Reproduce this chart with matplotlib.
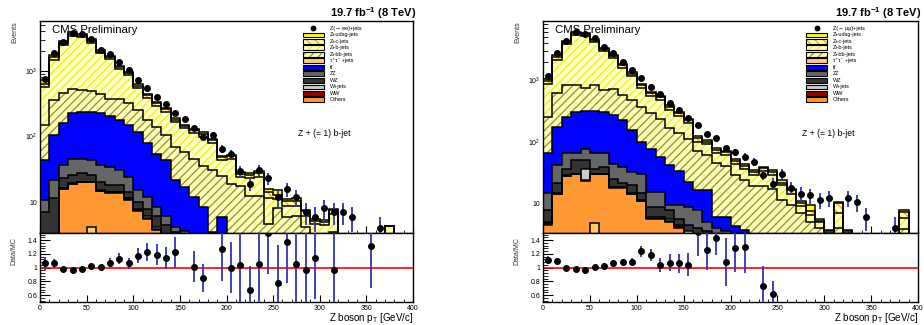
import numpy as np
import matplotlib
matplotlib.use("Agg")
import matplotlib.pyplot as plt
from matplotlib.patches import Rectangle
from matplotlib.lines import Line2D
from matplotlib.ticker import FixedLocator, FixedFormatter, MultipleLocator, LogLocator, NullFormatter

plt.rcParams["font.family"] = ["Liberation Sans", "DejaVu Sans"]
plt.rcParams["mathtext.fontset"] = "custom"
plt.rcParams["mathtext.rm"] = "Liberation Sans"
plt.rcParams["mathtext.it"] = "Liberation Sans:italic"
plt.rcParams["mathtext.bf"] = "Liberation Sans:bold"
plt.rcParams["hatch.linewidth"] = 0.9

# ---------------- binning: Z boson pT, 10 GeV bins from 0 to 400 ----------------
edges = np.arange(0, 410, 10)
centers = 0.5 * (edges[:-1] + edges[1:])
NB = len(centers)


def pad(vals):
    a = np.zeros(NB)
    a[: len(vals)] = vals
    return a


# ---------------- Z -> ee channel ----------------
ee_data = pad([755, 1860, 2800, 3760, 3630, 3080, 2090, 1820, 1360, 1035,
               730, 545, 400, 315, 231, 185, 133, 99, 105, 65,
               55, 30, 19, 31, 23, 11.8, 15.8, 11.8, 7.1, 6,
               8, 7.1, 7.1, 6, 0, 0, 4, 0, 0, 0])
ee_tautau = pad([0, 0, 2.5, 2.5, 2.5, 4.2, 2.5, 2.5, 2, 1.5, 1, 0.8, 0.5])
ee_others = pad([2.0, 2.5, 13.3, 16.3, 17.4, 15.7, 12.0, 11.4, 11.9, 9.4,
                 6.4, 4.7, 3.2, 2.5, 2.0, 1.5, 1.0, 0.7, 0.5, 0.3, 0.1])
ee_ww = pad([0.2] * 21)
ee_wjets = pad([0.3] * 21)
ee_wz = pad([4.5, 8.5, 6.7, 6.7, 7.2, 5.6, 5.5, 3.6, 3.6, 3.0,
             2.1, 1.9, 1.8, 1.5, 1.0, 0.8, 0.7, 0.6, 0.5, 0.4,
             0.3, 0.2, 0.2, 0.2, 0.2, 0.2, 0.1, 0.1, 0.1, 0.1, 0.1, 0.1])
ee_zz = pad([3.6, 10.2, 13.7, 19, 18.4, 18, 16.5, 16.6, 13, 9.6,
             5, 4.1, 2.5, 1.5, 0.7, 0.8, 0.8, 0.7, 0.5, 0.4,
             0.3, 0.3, 0.3, 0.3, 0.3, 0.2, 0.2, 0.1, 0.2, 0.1, 0.1, 0.1])
ee_ttbar = pad([33.4, 83.3, 121.3, 181, 194, 196, 194, 171.4, 147, 126,
                103, 67, 46.5, 38, 17.8, 13.4, 9, 6, 1.5, 4.2,
                1.8, 1.8, 1.7, 1.7, 1.6, 1.6, 1.5, 1.5, 1.4, 1.4,
                1.3, 1.3, 1.2, 1.1, 1.0, 0.9, 0.8, 0.8, 0.7, 0.6])
ee_zbb = pad([106, 255, 298, 299, 270, 260, 214, 172, 192, 171,
              132, 101, 85, 61, 48, 41, 33, 26.5, 27, 19.2,
              16, 15, 10, 10, 2.5, 6, 4, 4.5, 2.5, 1.5,
              1, 2])
ee_zb = pad([410, 1090, 2044, 2925, 2790, 2200, 1405, 1122, 710, 539,
             300, 210, 150, 135, 95, 77, 70, 65, 50, 19,
             27, 7, 11, 12, 6.8, 3, 3, 2.5, 2, 1.5,
             2, 3, 1, 1, 0.8, 1, 0.5, 3.5, 0.5, 0.3])
ee_zc = pad([80, 170, 180, 250, 220, 180, 120, 120, 70, 70,
             45, 35, 30, 25, 15, 10, 10, 10, 8, 4,
             4, 2.5, 3, 4, 3, 2, 1.5, 1.5, 1, 0.5, 0.5, 1])
ee_zudsg = pad([75, 130, 160, 200, 170, 140, 100, 80, 50, 46,
                29, 18, 16, 11, 9, 7, 6, 6, 4, 3,
                3, 1.5, 2, 2, 1.3, 2, 1, 1.2, 0.4, 0.3, 0.3, 0.4])
nan = np.nan
ee_ratio = np.array([1.06, 1.06, 0.985, 0.96, 0.985, 1.02, 1.01, 1.07, 1.13, 1.06,
                     1.17, 1.23, 1.19, 1.14, 1.22, nan, 1.015, 0.85, nan, 1.275,
                     1.0, 1.04, 0.67, 1.05, 1.5, 0.78, 1.37, 1.05, 0.965, 1.14,
                     nan, 0.96, nan, nan, nan, 1.31, nan, nan, nan, nan])
ee_ratio_err = np.array([0.1, 0.06, 0.03, 0.03, 0.03, 0.03, 0.03, 0.065, 0.085, 0.08,
                         0.11, 0.13, 0.15, 0.16, 0.22, nan, 0.23, 0.2, nan, 0.47,
                         0.37, 0.6, 0.35, 0.6, 0.6, 0.55, 0.6, 0.6, 0.6, 0.6,
                         nan, 0.6, nan, nan, nan, 0.6, nan, nan, nan, nan])

# ---------------- Z -> mumu channel ----------------
mm_data = pad([1160, 2780, 4360, 5960, 5600, 4770, 3480, 2720, 1980, 1450,
               1090, 760, 585, 418, 325, 247, 186, 132, 113, 78,
               68, 57, 47, 29, 21, 30.5, 18, 14.4, 13.5, 11.5,
               12.4, 0, 12.4, 10.5, 6, 0, 0, 4, 0, 0])
mm_tautau = pad([0, 0, 2.5, 2.5, 2.5, 4.7, 2.5, 2.5, 2, 1.5, 1, 0.8, 0.5])
mm_others = pad([4.5, 14, 25.5, 27, 20.9, 24.8, 27, 15.4, 15.9, 12.5,
                 9.7, 4.7, 5, 5, 4, 3, 2.5, 2, 1.5, 1,
                 0.7, 1, 0.8, 0.7, 0.6, 0.5, 0.4, 0.3, 0.3, 0.3])
mm_ww = pad([0.2] * 21)
mm_wjets = pad([0.3, 0.3, 0.3, 0.3, 13, 0.3, 0.3, 0.3, 0.3, 0.3,
                0.3, 0.3, 0.3, 0.3, 0.3, 0.3, 0.3, 0.3, 0.3, 0.3, 0.3])
mm_wz = pad([2.7, 6.5, 8.1, 20, 13.4, 6.6, 9, 6.6, 2.6, 5.1,
             3.3, 2.7, 2.7, 2.2, 1, 1, 1, 1, 1, 1,
             0.8, 0.5, 0.4, 0.3, 0.3, 0.3, 0.3, 0.2, 0.2, 0.2])
mm_zz = pad([6.8, 20.5, 28.4, 15, 27.6, 28.4, 26, 19, 18, 12.4,
             15.5, 6.3, 6.3, 1.6, 3.8, 4.2, 3.7, 1.5, 1, 1,
             1, 1, 0.8, 0.7, 0.6, 0.5, 0.4, 0.3, 0.3, 0.3])
mm_ttbar = pad([50, 132.5, 188, 240, 242, 255, 240, 226, 185, 122,
                69, 62.6, 41.6, 32.2, 24.7, 13.3, 8.6, 11.3, 2, 2.5,
                1.2, 1.2, 1.2, 1.2, 1.2, 1.2, 1.2, 1.2, 1.1, 1.1,
                1.0, 1.0, 1.0, 1.0, 0.9, 0.9, 0.8, 0.8, 0.8, 0.7])
mm_zbb = pad([185, 446, 577, 525, 413, 510, 383, 436, 346, 319,
              269, 210, 173, 128, 106, 88, 54, 44, 39, 34,
              25, 20.5, 16, 16, 14.5, 9, 7, 5, 3, 2,
              1.5, 3, 1.5, 1, 1, 0.8, 0.5, 0.5, 3, 0.5])
mm_zb = pad([610, 1530, 2970, 4570, 4467, 3370, 2312, 1544, 1030, 677,
             382, 262, 250, 160, 120, 90, 30, 30, 20, 20,
             15, 12, 10, 14, 12, 8, 5, 2, 1.5, 1,
             0.8, 3, 0.8, 0.5, 0.5, 0.3, 0.3, 0.3, 2, 0.3])
mm_zc = pad([100, 230, 300, 400, 400, 300, 220, 170, 130, 110,
             80, 60, 50, 40, 30, 25, 15, 10, 9, 8,
             5, 4, 3, 4, 3, 2, 2, 1, 1, 0.3,
             0.2, 3, 0.2, 0.1, 0.1, 0.1, 0.1, 0.1, 1.5, 0.1])
mm_zudsg = pad([85, 156, 260, 313, 233, 204, 159, 129, 103, 74,
                49, 34, 31, 20, 16, 12, 7, 6, 5, 4,
                3, 3, 2, 2, 2, 2, 1, 1, 2, 0.3,
                0.2, 0.5, 0.2, 0.2, 0.2, 0.1, 0.1, 0.1, 0.5, 0.1])
mm_ratio = np.array([1.11, 1.096, 1.0, 0.975, 0.96, 1.014, 1.03, 1.067, 1.08, 1.087,
                     1.24, 1.18, 1.043, 1.072, 1.062, 1.043, 1.52, 1.25, 1.435, 1.08,
                     1.29, 1.30, nan, 0.73, 0.61, nan, nan, nan, nan, nan,
                     nan, nan, nan, nan, nan, nan, nan, nan, nan, nan])
mm_ratio_err = np.array([0.06, 0.05, 0.02, 0.02, 0.02, 0.02, 0.03, 0.04, 0.05, 0.05,
                         0.08, 0.09, 0.1, 0.12, 0.14, 0.17, 0.35, 0.29, 0.25, 0.35,
                         0.35, 0.38, nan, 0.29, 0.2, nan, nan, nan, nan, nan,
                         nan, nan, nan, nan, nan, nan, nan, nan, nan, nan])

# ---------------- styles (stack order bottom -> top) ----------------
STACK_ORDER = ["tautau", "others", "ww", "wjets", "wz", "zz", "ttbar",
               "zbb", "zb", "zc", "zudsg"]
STYLE = {
    "zudsg": dict(fc="#ffff00", hc=None, hatch=None),
    "zc": dict(fc="#ffffb0", hc="#ff9a1a", hatch="\\\\\\\\"),
    "zb": dict(fc="#ffffc8", hc="#f2f200", hatch="////"),
    "zbb": dict(fc="#ffffb4", hc="#8f8f3a", hatch="////"),
    "tautau": dict(fc="#ffcc66", hc=None, hatch=None),
    "ttbar": dict(fc="#0000ff", hc=None, hatch=None),
    "zz": dict(fc="#666666", hc=None, hatch=None),
    "wz": dict(fc="#333333", hc=None, hatch=None),
    "wjets": dict(fc="#cccccc", hc=None, hatch=None),
    "ww": dict(fc="#990000", hc=None, hatch=None),
    "others": dict(fc="#ff9933", hc=None, hatch=None),
}
LEGEND_ORDER = ["zudsg", "zc", "zb", "zbb", "tautau", "ttbar", "zz", "wz",
                "wjets", "ww", "others"]
LEGEND_TEXT = {
    "zudsg": "Z+udsg-jets", "zc": "Z+c-jets", "zb": "Z+b-jets",
    "zbb": "Z+bb-jets", "tautau": "τ⁺τ⁻ +jets",
    "ttbar": "tt̄", "zz": "ZZ", "wz": "WZ", "wjets": "W+jets",
    "ww": "WW", "others": "Others",
}

W, H = 924, 325
fig = plt.figure(figsize=(W / 100, H / 100), dpi=100)


def fx(x):
    return x / W


def fy(y):
    return 1 - y / H


def draw_channel(x0, x1, ymin, ymax, comps, data, ratio, rerr, data_label, leg_x):
    ax = fig.add_axes([fx(x0), fy(232.5), fx(x1 - x0), (232.5 - 21) / H])
    axr = fig.add_axes([fx(x0), fy(302), fx(x1 - x0), (302 - 232.5) / H])

    base = ymin * 0.01
    prev = np.full(NB, base)
    tops = []
    for name in STACK_ORDER:
        top = prev + comps[name]
        st = STYLE[name]
        ax.stairs(np.maximum(top, base), edges, baseline=prev, fill=True,
                  facecolor=st["fc"], edgecolor=st["hc"] if st["hc"] else "none",
                  hatch=st["hatch"], lw=0, zorder=2)
        tops.append(top)
        prev = top
    for top in tops:
        ax.stairs(np.maximum(top, base), edges, baseline=base, fill=False,
                  color="black", lw=1.1, zorder=3)

    d = np.where(data > 0, data, np.nan)
    ax.errorbar(centers, d, yerr=np.sqrt(np.nan_to_num(d)), fmt="none",
                ecolor="#3434b0", elinewidth=1.3, capsize=0, zorder=4)
    ax.plot(centers, d, "o", color="black", ms=4, zorder=5)

    ax.set_yscale("log")
    ax.set_xlim(0, 400)
    ax.set_ylim(ymin, ymax)
    ax.yaxis.set_major_locator(FixedLocator([10, 100, 1000]))
    ax.yaxis.set_major_formatter(FixedFormatter(["10", r"$10^{2}$", r"$10^{3}$"]))
    ax.yaxis.set_minor_locator(LogLocator(base=10, subs=np.arange(2, 10)))
    ax.yaxis.set_minor_formatter(NullFormatter())
    ax.xaxis.set_major_locator(MultipleLocator(50))
    ax.xaxis.set_minor_locator(MultipleLocator(10))
    ax.set_xticklabels([])
    ax.tick_params(which="both", direction="in", top=False, right=False,
                   labelsize=5, pad=2)
    ax.tick_params(axis="y", which="major", length=7)
    ax.tick_params(axis="y", which="minor", length=3.5)
    ax.tick_params(axis="x", which="major", length=5)
    ax.tick_params(axis="x", which="minor", length=2.5)

    # ratio panel
    axr.axhline(1.0, color="#ff0000", lw=1.2, zorder=2)
    axr.errorbar(centers, ratio, yerr=rerr, fmt="none", ecolor="#3434b0",
                 elinewidth=1.3, capsize=0, zorder=3)
    axr.plot(centers, ratio, "o", color="black", ms=4, zorder=4, clip_on=True)
    axr.set_xlim(0, 400)
    axr.set_ylim(0.5, 1.51)
    axr.yaxis.set_major_locator(FixedLocator([0.6, 0.8, 1.0, 1.2, 1.4]))
    axr.yaxis.set_major_formatter(FixedFormatter(["0.6", "0.8", "1", "1.2", "1.4"]))
    axr.yaxis.set_minor_locator(MultipleLocator(0.04))
    axr.xaxis.set_major_locator(MultipleLocator(50))
    axr.xaxis.set_minor_locator(MultipleLocator(10))
    axr.tick_params(which="both", direction="in", top=False, right=False,
                    labelsize=5, pad=2)
    axr.tick_params(axis="y", which="major", length=7)
    axr.tick_params(axis="y", which="minor", length=3.5)
    axr.tick_params(axis="x", which="major", length=5)
    axr.tick_params(axis="x", which="minor", length=2.5)

    for a in (ax, axr):
        for s in a.spines.values():
            s.set_linewidth(1.0)

    # labels
    fig.text(fx(x0 - 25), fy(21), "Events", rotation=90, ha="center", va="top",
             fontsize=5, color="#333333")
    fig.text(fx(x0 - 26), fy(251), "Data/MC", rotation=90, ha="center", va="center",
             fontsize=5, color="#333333")
    fig.text(fx(x1), fy(318), r"Z boson p$_{\rm T}$ [GeV/c]", ha="right",
             va="center", fontsize=7)
    fig.text(fx(x0 + 12), fy(30), "CMS Preliminary", ha="left", va="center",
             fontsize=8.2)
    fig.text(fx(x1 + 3), fy(13), r"19.7 fb$^{\mathbf{-1}}$ (8 TeV)", ha="right",
             va="center", fontsize=8, fontweight="bold")

    # legend
    sw_w, sw_h = 21, 4.6
    row0, step = 28.3, 6.5
    fig.add_artist(Line2D([fx(leg_x + sw_w / 2)], [fy(row0)], marker="o",
                          color="black", ms=3.2, transform=fig.transFigure))
    fig.text(fx(leg_x + 27), fy(row0), data_label, ha="left", va="center",
             fontsize=4.0)
    for i, name in enumerate(LEGEND_ORDER):
        yc = row0 + step * (i + 1)
        st = STYLE[name]
        fig.add_artist(Rectangle((fx(leg_x), fy(yc + sw_h / 2)), fx(sw_w), sw_h / H,
                                 transform=fig.transFigure, facecolor=st["fc"],
                                 edgecolor=st["hc"] if st["hc"] else "none",
                                 hatch=st["hatch"], lw=0))
        fig.add_artist(Rectangle((fx(leg_x), fy(yc + sw_h / 2)), fx(sw_w), sw_h / H,
                                 transform=fig.transFigure, fill=False,
                                 edgecolor="black", lw=0.8))
        fig.text(fx(leg_x + 27), fy(yc), LEGEND_TEXT[name], ha="left",
                 va="center", fontsize=4.0)
    fig.text(fx(leg_x + 22), fy(133.5), "Z + (= 1) b-jet", ha="center",
             va="center", fontsize=6.2)


def comps_of(prefix):
    g = globals()
    return {name: g[f"{prefix}_{name}"] for name in STACK_ORDER}


draw_channel(40, 413, 3.44, 5770, comps_of("ee"), ee_data, ee_ratio, ee_ratio_err,
             "Z(→ ee)+jets", 302.7)
draw_channel(543, 918, 3.37, 9100, comps_of("mm"), mm_data, mm_ratio, mm_ratio_err,
             "Z(→ μμ)+jets", 806)

fig.savefig("out.png", dpi=100)
